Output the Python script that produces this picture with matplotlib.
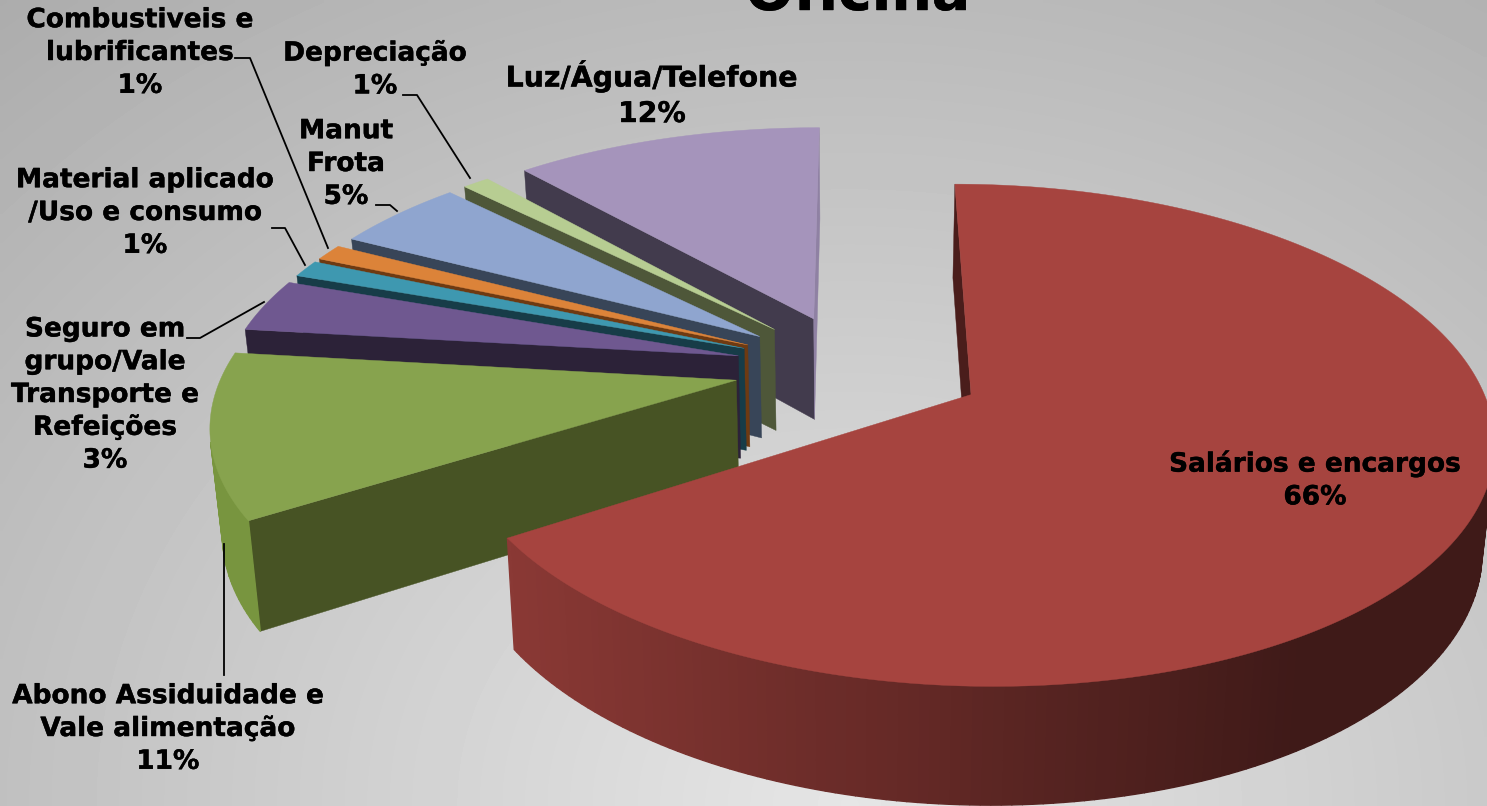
import numpy as np
import matplotlib
matplotlib.use('Agg')
import matplotlib.pyplot as plt
import matplotlib.patheffects as pe
from matplotlib.colors import to_rgb

# Values (percent of the pie)
names = ['Salários e encargos', 'Abono Assiduidade e\nVale alimentação',
         'Seguro em\ngrupo/Vale\nTransporte e\nRefeições', 'Material aplicado\n/Uso e consumo',
         'Combustiveis e\nlubrificantes', 'Manut\nFrota', 'Depreciação', 'Luz/Água/Telefone']
values = [66.0, 10.85, 3.55, 1.15, 1.1, 4.85, 1.0, 11.5]
labels_pct = ['66%', '11%', '3%', '1%', '1%', '5%', '1%', '12%']

top_colors = ['#a6443f', '#87a34e', '#6f5890', '#3e98b0', '#dc8339', '#8fa5cf', '#b7cd92', '#a594bb']
wall_colors = ['#4a1d1b', '#475324', '#2c2238', '#173c48', '#6e3a12', '#384558', '#4e5739', '#423b4d']
rim_colors = ['#8b3935', '#78953f', '#5c4878', '#2f7f94', '#b96d2a', '#7a8fb5', '#98ad70', '#8f81a3']

# label centres in pixels
label_x = [1315, 168, 105, 145, 140, 346, 375, 652]
label_y = [480, 729, 395, 213, 53, 164, 70, 94]
label_size = [19, 19, 19, 19, 19, 19, 19, 20.4]

# leader lines in pixels
leaders = [([235, 250, 328], [58, 58, 248]),
           ([403, 417, 470], [95, 95, 178]),
           ([376, 390, 397], [205, 205, 211]),
           ([272, 285, 305], [228, 228, 265]),
           ([187, 200, 264], [338, 338, 302]),
           ([224, 224], [675, 544])]

# projection of the tilted pie
CX, CY = 855, 368
SX, SY = 512, 236
PERSP = 0.159
DEPTH = 105
EXPLODE_X = 0.2358
EXPLODE_Y = 0.23
# the red slice sits a bit further right and is a bit narrower
RED_SHIFT = 0.016
RED_RX = 0.985


def project(x, y, z=0.0):
    w = (1 - PERSP * y) * (1 + 0.02 * z)
    return CX + SX * x / w, CY + SY * y / w + DEPTH * z / w


def facing(pts):
    # only keep walls turned towards the viewer (shoelace sign, y points down)
    area = 0.0
    for a, b in zip(pts, pts[1:] + pts[:1]):
        area += a[0] * b[1] - b[0] * a[1]
    return area


def rim_shade(color, px):
    # the side of the red slice gets darker to the right
    t = np.clip((px - 500) / 800, 0, 1)
    return tuple(c * (1 - 0.55 * t) for c in to_rgb(color))


def draw_slice(ax, start, end, i):
    mid = np.radians((start + end) / 2)
    ox, oy = EXPLODE_X * np.sin(mid), -EXPLODE_Y * np.cos(mid)
    rx = 1.0
    if i == 0:
        ox += RED_SHIFT
        rx = RED_RX
    ang = np.radians(np.arange(start, end + 1.0, 1.0))
    ang[-1] = np.radians(end)
    xs = ox + rx * np.sin(ang)
    ys = oy - np.cos(ang)

    # radial walls
    pts = [project(ox, oy), project(xs[0], ys[0]), project(xs[0], ys[0], 1), project(ox, oy, 1)]
    if facing(pts) < 0:
        ax.fill(*zip(*pts), color=wall_colors[i], lw=0.3)
    pts = [project(ox, oy), project(xs[-1], ys[-1]), project(xs[-1], ys[-1], 1), project(ox, oy, 1)]
    if facing(pts) > 0:
        ax.fill(*zip(*pts), color=rim_colors[i], lw=0.3)

    # outer rim, in small strips so it can be shaded
    for a in range(len(ang) - 1):
        pts = [project(xs[a], ys[a]), project(xs[a + 1], ys[a + 1]),
               project(xs[a + 1], ys[a + 1], 1), project(xs[a], ys[a], 1)]
        if facing(pts) > 0:
            continue
        mean_x = np.mean([p[0] for p in pts])
        color = rim_shade(rim_colors[i], mean_x) if i == 0 else rim_colors[i]
        ax.fill(*zip(*pts), color=color, lw=1.0)

    # top face
    px, py = project(np.r_[ox, xs], np.r_[oy, ys])
    ax.fill(px, py, color=top_colors[i], lw=0.3)


fig = plt.figure(figsize=(14.87, 8.06), dpi=100)
ax = fig.add_axes([0, 0, 1, 1])
ax.set_xlim(0, 1487)
ax.set_ylim(806, 0)
ax.axis('off')

# grey background, light around the lower middle
gx, gy = np.meshgrid(np.linspace(0, 1487, 300), np.linspace(0, 806, 160))
dist = np.hypot((gx - 850) / 1100, (gy - 806) / 900)
ax.imshow(0.90 - 0.19 * dist, cmap='gray', vmin=0, vmax=1, extent=[0, 1487, 806, 0],
          aspect='auto', zorder=0, interpolation='bilinear')

# cumulative angles, clockwise from 12 o'clock
edges = np.r_[0, np.cumsum(values)] / np.sum(values) * 360

# back slices first, the red one last
for i in [7, 6, 5, 4, 3, 2, 1, 0]:
    draw_slice(ax, edges[i], edges[i + 1], i)

for lx, ly in leaders:
    ax.plot(lx, ly, color='black', lw=1.3, zorder=5)

heavy = [pe.withStroke(linewidth=0.3, foreground='black')]
for i, name in enumerate(names):
    ax.text(label_x[i], label_y[i], name + '\n' + labels_pct[i], ha='center', va='center',
            fontsize=label_size[i], fontweight='bold', family='DejaVu Sans', color='black',
            linespacing=1.34, zorder=6, path_effects=heavy)

ax.text(858, 10, 'Oficina', ha='center', va='baseline', fontsize=41, fontweight='bold',
        family='DejaVu Sans', color='black', zorder=6, path_effects=heavy)

fig.savefig('out.png', dpi=100)
